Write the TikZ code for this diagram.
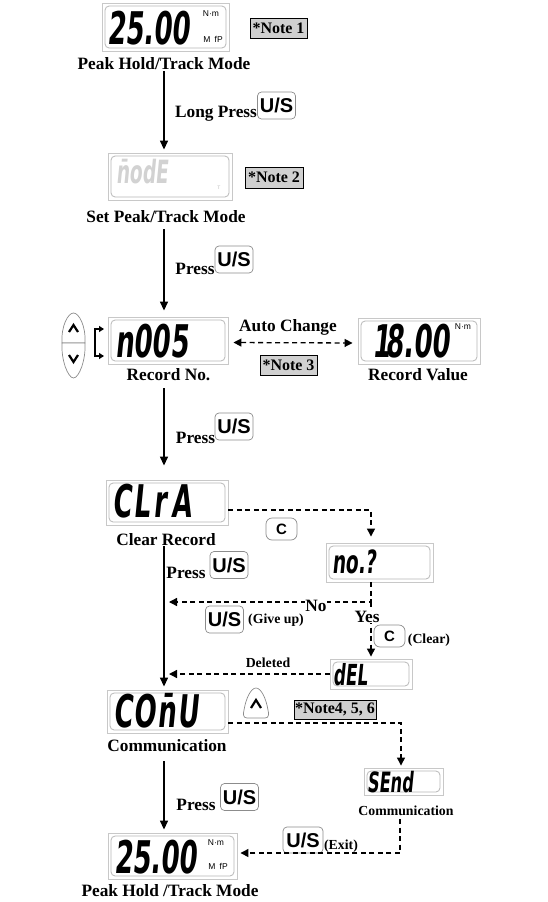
\documentclass[tikz,border=0pt]{standalone}
\usepackage{fontspec}
\setmainfont{Liberation Serif}
\setsansfont{Liberation Sans}
\newfontfamily\lcdfont[UprightFont={* Bold},FakeStretch=0.58,FakeSlant=0.1]{DejaVu Sans}
\usetikzlibrary{arrows.meta}
\definecolor{lcdout}{HTML}{C8C8C8}
\definecolor{lcdinn}{HTML}{B8B8B8}
\definecolor{notegray}{HTML}{D0D0D0}
\definecolor{btnedge}{HTML}{8C8C8C}
\newcommand\lcdinner[1]{\draw[lcdin] ([shift={(3.5,3.5)}]#1.north west) rectangle ([shift={(-3.5,-3.5)}]#1.south east);}
\tikzset{
  lcd/.style={draw=lcdout, line width=0.9pt, fill=white, inner sep=0pt},
  lcdin/.style={draw=lcdinn, line width=0.8pt, rounded corners=4pt},
  digits/.style={font=\lcdfont\fontsize{45}{45}\selectfont, inner sep=0pt, anchor=west},
  sdigits/.style={font=\lcdfont\fontsize{32}{32}\selectfont, inner sep=0pt, anchor=west},
  unit/.style={font=\sffamily\fontsize{8.5}{8.5}\selectfont, inner sep=0pt},
  lbl/.style={font=\bfseries\fontsize{17.3}{20}\selectfont, inner sep=1pt},
  slbl/.style={font=\bfseries\fontsize{13.8}{16}\selectfont, inner sep=1pt},
  notebox/.style={draw=black, fill=notegray, line width=0.8pt, font=\bfseries\fontsize{16}{18}\selectfont, inner sep=1pt},
  usbtn/.style={draw=btnedge, fill=white, line width=0.7pt, rounded corners=4pt, font=\sffamily\bfseries\fontsize{20}{20}\selectfont, minimum width=38pt, minimum height=27pt, inner sep=0pt},
  cbtn/.style={usbtn, font=\sffamily\bfseries\fontsize{15}{15}\selectfont, minimum width=31pt, minimum height=22pt, rounded corners=6pt},
  arr/.style={line width=1.4pt, -{Triangle[length=9pt,width=8pt]}},
  darr/.style={line width=1.3pt, dash pattern=on 5pt off 3.5pt, -{Triangle[length=8pt,width=8pt]}},
  icon/.style={draw=btnedge, fill=white, line width=0.7pt},
  chev/.style={line width=2.2pt},
}
\begin{document}
\begin{tikzpicture}[x=1pt,y=-1pt]
\useasboundingbox (0,0) rectangle (547,902);
\coordinate (colx) at (164,0);
% ---- row 1
\node[lcd, minimum width=127pt, minimum height=48pt] (d1) at (165.5,27) {};
\lcdinner{d1}
\node[digits] (t1) at (107,28) {25.00};
\node[unit] (u1) at (211,14) {N·m};
\node[unit] (u1b) at (213,39) {M\enspace fP};
\node[notebox, minimum width=57pt, minimum height=20pt] (n1) at (278.5,28) {*Note 1};
\node[lbl] (l1) at (164,64) {Peak Hold/Track Mode};
\node[lbl] (lp1) at (216,114) {Long Press};
\node[usbtn] (b1) at (276.5,105.5) {U/S};
% ---- row 2
\node[lcd, minimum width=124pt, minimum height=47pt] (d2) at (170,176.5) {};
\lcdinner{d2}
\node[sdigits, text=gray!35] (t2) at (116,172) {\={n}odE};
\node[unit, text=gray!50, font=\sffamily\fontsize{5}{5}\selectfont] (u2) at (219,188) {T};
\node[notebox, minimum width=58pt, minimum height=21pt] (n2) at (274,177.5) {*Note 2};
\node[lbl] (l2) at (166,217) {Set Peak/Track Mode};
\node[lbl] (lp2) at (195,269) {Press};
\node[usbtn] (b2) at (234,259.5) {U/S};
% ---- row 3
\node[lcd, minimum width=120pt, minimum height=47pt] (d3) at (168,340.5) {};
\lcdinner{d3}
\node[digits] (t3) at (115,341) {n005};
\draw[icon] (62,343) .. controls (61,326) and (68,313) .. (73.5,313) .. controls (79,313) and (86,326) .. (85,343) -- cycle;
\draw[icon] (62,343) .. controls (61,360) and (68,378) .. (73.5,378) .. controls (79,378) and (86,360) .. (85,343) -- cycle;
\draw[chev] (69,332) -- (73.5,325) -- (78,332);
\draw[chev] (69,355) -- (73.5,362) -- (78,355);
\draw[line width=1.3pt, {Triangle[length=5pt,width=6pt]}-{Triangle[length=5pt,width=6pt]}] (104,329) -- (95,329) -- (95,356) -- (104,356);
\node[lbl] (ac) at (288,327) {Auto Change};
\node[notebox, minimum width=57pt, minimum height=20pt] (n3) at (288.5,365) {*Note 3};
\node[lbl] (l3) at (168.5,375) {Record No.};
\node[lcd, minimum width=122pt, minimum height=46pt] (d4) at (419,341) {};
\lcdinner{d4}
\node[digits] (t4) at (372,341) {1\kern-5pt 8.00};
\node[unit] (u4) at (463,327) {N·m};
\node[lbl] (l4) at (418,375) {Record Value};
\node[lbl] (lp3) at (195.5,438) {Press};
\node[usbtn] (b3) at (234,426.5) {U/S};
% ---- clear record
\node[lcd, minimum width=122pt, minimum height=45pt] (d5) at (167,502.5) {};
\lcdinner{d5}
\node[digits] (t5) at (112,501) {C\kern2pt L\kern4pt r\kern5pt A};
\node[lbl] (l5) at (166,540) {Clear Record};
\node[cbtn] (cb1) at (281.5,529) {C};
\node[lcd, minimum width=107pt, minimum height=39pt] (d6) at (379.5,562.5) {};
\lcdinner{d6}
\node[sdigits] (t6) at (332,562) {no.?};
\node[lbl] (lp4) at (186,573) {Press};
\node[usbtn] (b4) at (229,565) {U/S};
\node[usbtn] (b5) at (224.5,619.5) {U/S};
\node[slbl] (gu) at (276,620) {(Give up)};
\node[cbtn] (cb2) at (389.5,636) {C};
\node[slbl] (cl) at (429,640) {(Clear)};
\node[lcd, minimum width=82pt, minimum height=30pt] (d7) at (371,674) {};
\lcdinner{d7}
\node[sdigits, font=\lcdfont\fontsize{29}{29}\selectfont] (t7) at (333,674.5) {dEL};
\node[slbl] (del) at (268,663) {Deleted};
% ---- communication
\node[lcd, minimum width=121pt, minimum height=43pt] (d8) at (167.5,711.5) {};
\lcdinner{d8}
\node[digits] (t8) at (113,711) {C\kern1pt O\kern2pt \={n}\kern1pt U};
\node[lbl] (l8) at (167,746) {Communication};
\draw[icon] (247,718) .. controls (243,718) and (243,714) .. (244,710) .. controls (246,698) and (251,688) .. (256,688) .. controls (261,688) and (266,698) .. (268,710) .. controls (269,714) and (269,718) .. (265,718) -- cycle;
\draw[chev] (251,708) -- (256,700) -- (261,708);
\node[notebox, minimum width=80pt, minimum height=19pt] (n4) at (335,709.5) {*Note4, 5, 6};
\node[lcd, minimum width=79pt, minimum height=27pt] (d9) at (403.5,781.5) {};
\lcdinner{d9}
\node[sdigits, font=\lcdfont\fontsize{28}{28}\selectfont] (t9) at (367,782.5) {SEnd};
\node[slbl] (l9) at (406,811) {Communication};
\node[lbl] (lp5) at (196,805) {Press};
\node[usbtn] (b6) at (239.5,797) {U/S};
% ---- final
\node[lcd, minimum width=129pt, minimum height=46pt] (d10) at (172.5,856) {};
\lcdinner{d10}
\node[digits] (t10) at (114,857) {25.00};
\node[unit] (u10) at (216,842.5) {N·m};
\node[unit] (u10b) at (218,866) {M\enspace fP};
\node[lbl] (l10) at (170,891) {Peak Hold /Track Mode};
\node[usbtn, minimum width=40pt, minimum height=26pt] (b7) at (303,840) {U/S};
\node[slbl] (ex) at (341,846) {(Exit)};
% ---- connectors
\draw[arr, shorten >=3pt] (l1.south) -- (l1.south |- d2.north);
\draw[arr, shorten <=5pt, shorten >=6pt] (l2.south -| colx) -- (colx |- d3.north);
\draw[arr, shorten <=6pt, shorten >=14pt] (l3.south -| colx) -- (colx |- d5.north);
\draw[arr, shorten <=-1pt, shorten >=3pt] (l5.south -| colx) -- (colx |- d8.north);
\draw[arr, shorten <=8pt, shorten >=3pt] (l8.south -| colx) -- (colx |- d10.north);
\draw[darr, {Triangle[length=8pt,width=8pt]}-{Triangle[length=8pt,width=8pt]}, shorten <=5pt, shorten >=5pt] ([yshift=-2pt]d3.east) -- ([yshift=-2pt]d4.west);
\coordinate (c1) at (371,510);
\coordinate (c2) at (371,602);
\coordinate (c3) at (401,723);
\coordinate (c4) at (400,853);
\draw[darr, shorten >=6pt] (d5.east |- c1) -- (c1) -- (c1 |- d6.north);
\draw[darr, shorten >=5pt] (c1 |- d6.south) -- (c2) -- (c2 -| colx);
\draw[darr, shorten >=2pt] (c2) -- (c2 |- d7.north);
\draw[darr, shorten >=5pt] (d7.west) -- (d7.west -| colx);
\draw[darr, shorten >=2pt] (d8.east |- c3) -- (c3) -- (c3 |- d9.north);
\draw[darr, shorten <=2pt, shorten >=3pt] (l9.south -| c4) -- (c4) -- (c4 -| d10.east);
\node[lbl, fill=white, inner sep=0.5pt] (no) at (316,606) {No};
\node[lbl, fill=white, inner sep=0.5pt] (yes) at (367,617) {Yes};
\end{tikzpicture}
\end{document}
